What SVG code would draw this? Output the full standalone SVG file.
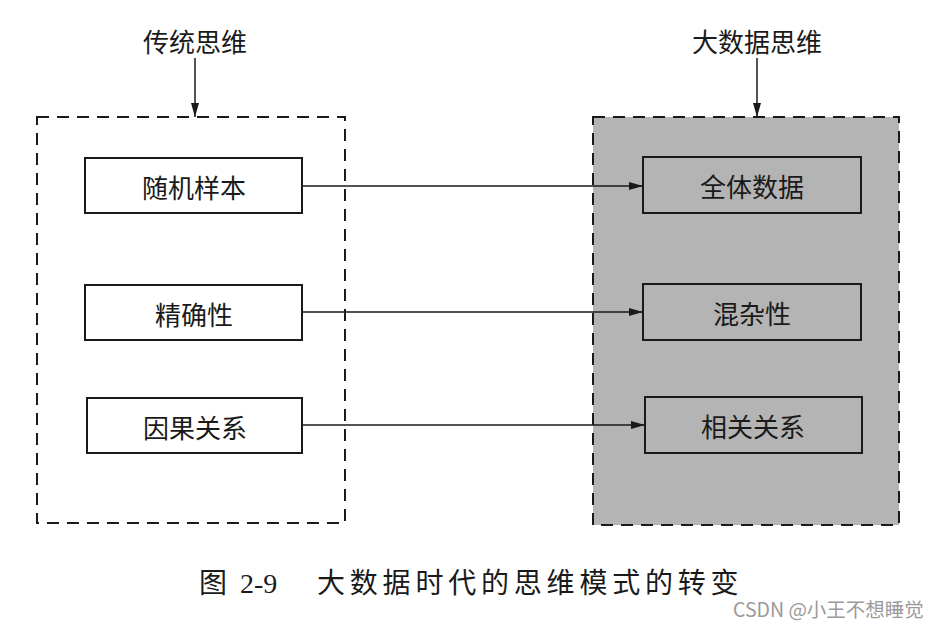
<svg xmlns="http://www.w3.org/2000/svg" width="941" height="630" viewBox="0 0 941 630">
<defs>
<style>
.t{font-family:"Noto Sans CJK SC","Liberation Sans",sans-serif;font-size:26px;fill:#1a1a1a;text-anchor:middle;dominant-baseline:central}
.box{fill:none;stroke:#1a1a1a;stroke-width:2}
.grp{stroke:#1a1a1a;stroke-width:2;stroke-dasharray:12,8}
.con{stroke:#1a1a1a;stroke-width:1.5;fill:none}
</style>
<marker id="ah" markerWidth="14" markerHeight="8" refX="14" refY="4" orient="auto" markerUnits="userSpaceOnUse">
<path d="M0,0 L14,4 L0,8 Z" fill="#1a1a1a"/>
</marker>
</defs>
<rect width="941" height="630" fill="#ffffff"/>
<g id="group-traditional">
<rect class="grp" x="37" y="117" width="308" height="406" fill="none"/>
<text class="t" x="195" y="40">传统思维</text>
</g>
<g id="group-bigdata">
<rect class="grp" x="593" y="117" width="306" height="408" fill="#b4b4b4"/>
<text class="t" x="757" y="40">大数据思维</text>
</g>
<g id="n1"><rect class="box" x="85" y="158" width="217" height="55" fill="#fff"/><text class="t" x="194" y="186">随机样本</text></g>
<g id="n2"><rect class="box" x="85" y="285" width="217" height="55" fill="#fff"/><text class="t" x="194" y="313">精确性</text></g>
<g id="n3"><rect class="box" x="87" y="398" width="215" height="55" fill="#fff"/><text class="t" x="195" y="426">因果关系</text></g>
<g id="n4"><rect class="box" x="643" y="157" width="218" height="56"/><text class="t" x="752" y="185">全体数据</text></g>
<g id="n5"><rect class="box" x="643" y="284" width="218" height="56"/><text class="t" x="752" y="312">混杂性</text></g>
<g id="n6"><rect class="box" x="645" y="397" width="217" height="56"/><text class="t" x="753" y="425">相关关系</text></g>
<g id="connectors">
<line class="con" x1="195" y1="58" x2="195" y2="117" marker-end="url(#ah)"/>
<line class="con" x1="757" y1="58" x2="757" y2="117" marker-end="url(#ah)"/>
<line class="con" x1="302" y1="186" x2="643" y2="186" marker-end="url(#ah)"/>
<line class="con" x1="302" y1="312" x2="643" y2="312" marker-end="url(#ah)"/>
<line class="con" x1="302" y1="425" x2="645" y2="425" marker-end="url(#ah)"/>
</g>
<g id="caption" font-family="'Noto Sans CJK SC','Liberation Serif',serif" font-size="28" fill="#1a1a1a">
<text x="199" y="593">图</text>
<text x="240" y="593" font-family="'Liberation Serif',serif">2-9</text>
<text x="317" y="593" letter-spacing="4.8">大数据时代的思维模式的转变</text>
</g>
<text x="733" y="617" font-family="'Noto Sans CJK SC','Liberation Sans',sans-serif" font-size="19.5" fill="#9a9a9a">CSDN @小王不想睡觉</text>
</svg>
